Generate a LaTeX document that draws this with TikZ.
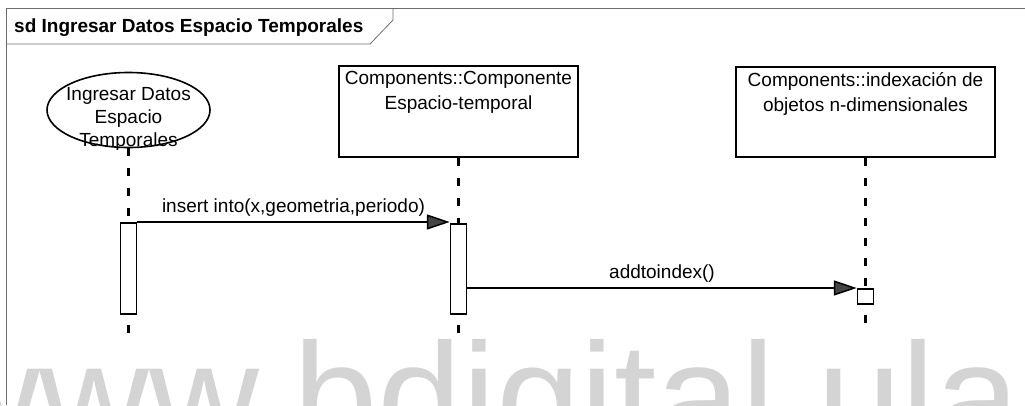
\documentclass[tikz,border=0pt]{standalone}
\usepackage{fontspec}
\setmainfont{Liberation Sans}
\usetikzlibrary{positioning,shapes.geometric,arrows.meta}
\definecolor{wmgray}{HTML}{D4D4D4}
\definecolor{headgray}{HTML}{444444}
\definecolor{framegray}{HTML}{6E6E6E}
\newcommand{\lifeline}[2]{\draw[life] (#1) -- (#2);}
\newcommand{\lifeend}[2]{\draw[life, dash phase=10pt] (#1) -- (#2);}

\begin{document}
\begin{tikzpicture}
  [x=1pt,y=-1pt,
  frame/.style={draw=framegray,line width=0.8pt},
  title/.style={font=\fontsize{19}{22}\selectfont\bfseries,inner sep=0pt},
  obj/.style={rectangle,draw=black,line width=1.6pt,minimum width=239pt,minimum height=91pt,inner sep=0pt},
  objtext/.style={align=center,font=\fontsize{19}{25}\selectfont,inner sep=0pt},
  actor/.style={ellipse,draw=black,line width=1.6pt,minimum width=163pt,minimum height=75pt,inner sep=0pt},
  act/.style={rectangle,draw=black,fill=white,line width=1.5pt,minimum width=16pt,inner sep=0pt},
  life/.style={line width=2.1pt,dash pattern=on 8pt off 12pt},
  msg/.style={line width=1.5pt,-{Triangle[length=23pt,width=15pt,fill=headgray]}},
  lbl/.style={font=\fontsize{19}{22}\selectfont,inner sep=0pt},
  wm/.style={font=\fontsize{152}{152}\selectfont,text=wmgray,inner sep=0pt},
  ]
  \useasboundingbox (0,0) rectangle (1025,405);
  \clip (0,0) rectangle (1025,405);
  % watermark
  \node[wm, anchor=base west] (wmark) at (-70,449) {www.bdigital.ula.ve};
  % frame
  \draw[frame] (6,405) -- (6,8) -- (1025,8);
  \draw[frame] (6,44) -- (370,44) -- (393,20) -- (393,8);
  \node[title, anchor=base west] (title) at (14,32) {sd Ingresar Datos Espacio Temporales};
  % lifeline heads
  \node[actor] (user) at (128.5,110) {};
  \node[objtext] (usertxt) at ([yshift=-9pt]user.center) {Ingresar Datos\\[-2pt]Espacio\\[-2pt]Temporales};
  \node[obj] (comp) at (458.5,111.5) {};
  \node[objtext, anchor=north] (comptxt) at ([yshift=-6pt]comp.north) {Components::Componente\\Espacio-temporal};
  \node[obj, minimum width=259pt, minimum height=90pt] (index) at (865.5,112) {};
  \node[objtext, anchor=north] (indextxt) at ([yshift=-6pt]index.north) {Components::indexación de\\objetos n-dimensionales};
  % activations
  \node[act, minimum height=91pt, anchor=north] (act1) at (user.south |- 0,222) {};
  \node[act, minimum height=90pt, anchor=north] (act2) at (comp.south |- 0,223) {};
  \node[act, minimum height=15pt, anchor=north] (act3) at (index.south |- 0,288) {};
  \coordinate (end1) at (act1.south |- 0,333);
  \coordinate (end2) at (act2.south |- 0,333);
  \coordinate (end3) at (act3.south |- 0,333);
  \lifeline{user.south}{act1.north}
  \lifeline{comp.south}{act2.north}
  \lifeline{index.south}{act3.north}
  \lifeend{act1.south}{end1}
  \lifeend{act2.south}{end2}
  \lifeend{act3.south}{end3}
  % messages
  \draw[msg] (act1.north east) -- node[lbl, above=5pt] (m1) {insert into(x,geometria,periodo)} (act1.north east -| act2.west);
  \draw[msg] (act2.east |- act3.north) -- node[lbl, above=5pt] (m2) {addtoindex()} (act3.north west);
\end{tikzpicture}
\end{document}
